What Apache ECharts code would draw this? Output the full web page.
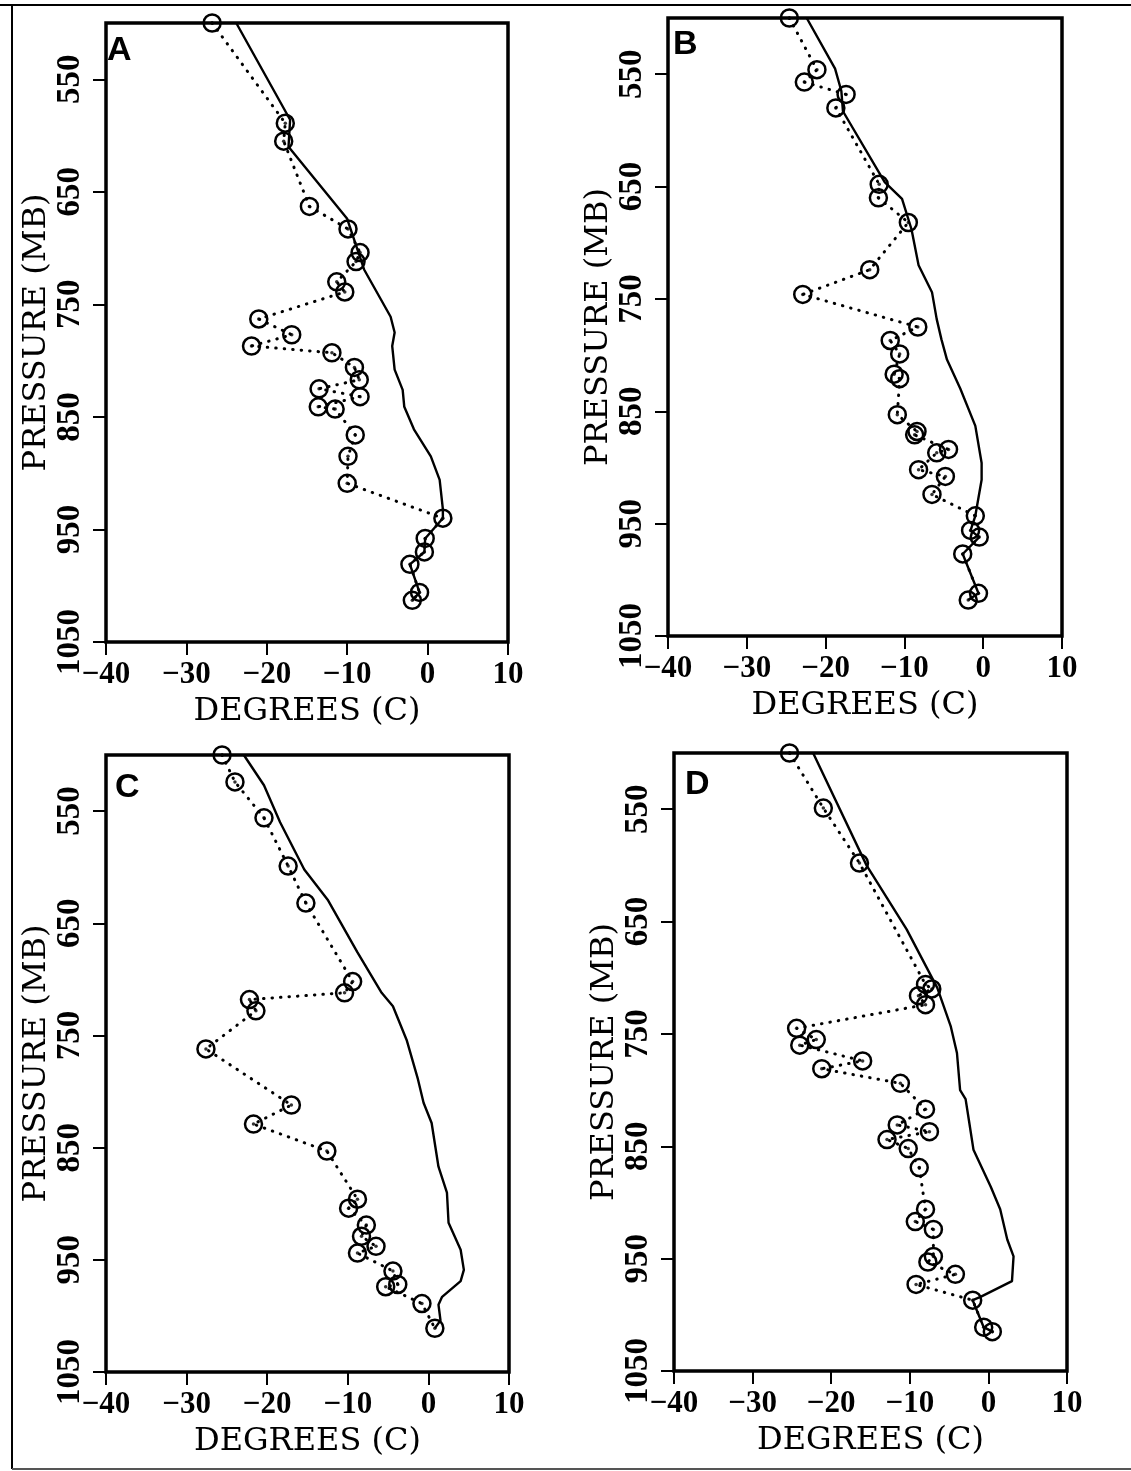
<!DOCTYPE html>
<html><head><meta charset="utf-8">
<script src="https://cdn.jsdelivr.net/npm/echarts@6/dist/echarts.min.js"></script>
<style>html,body{margin:0;padding:0;background:#fff}#c{width:1131px;height:1471px}</style>
</head><body><div id="c"></div>
<script>
// ---- data ----
const panelLabels = ['A', 'B', 'C', 'D'];
const xTicks = [-40, -30, -20, -10, 0, 10];
const yTicks = [550, 650, 750, 850, 950, 1050];

// Panel A
const aObsT = [-26.8, -17.7, -17.9, -14.7, -9.9, -8.4, -8.9, -11.3, -10.3, -21.0, -16.9, -21.9, -11.9, -9.1, -8.5, -13.5, -8.4, -13.6, -11.5, -9.0, -9.9, -10.0, 1.9, -0.3, -0.4, -2.2, -1.0, -1.9];
const aObsP = [500, 589, 605, 663, 683, 704, 712, 730, 739, 763, 777, 787, 793, 806, 817, 825, 832, 841, 843, 866, 885, 909, 940, 958, 970, 981, 1006, 1013];
const aEnvT = [-23.8, -17.1, -17.3, -10.0, -7.9, -4.6, -4.1, -4.4, -4.1, -3.1, -2.9, -1.7, 0.4, 1.5, 1.9, 1.9, -0.3, -0.4, -2.2, -1.0, -1.9];
const aEnvP = [500, 586, 610, 674, 719, 761, 775, 787, 808, 826, 841, 861, 885, 906, 932, 940, 958, 970, 981, 1006, 1013];

// Panel B
const bObsT = [-24.6, -21.1, -22.7, -17.4, -18.7, -13.2, -13.3, -9.5, -14.4, -22.9, -8.3, -11.8, -10.6, -11.3, -10.6, -10.9, -8.4, -8.7, -4.4, -5.9, -8.2, -4.8, -6.5, -1.0, -1.6, -0.5, -2.6, -0.6, -1.9];
const bObsP = [500, 546, 557, 568, 580, 648, 660, 682, 724, 746, 775, 787, 799, 817, 821, 853, 868, 871, 884, 887, 902, 908, 924, 943, 956, 962, 977, 1012, 1018];
const bEnvT = [-22.4, -18.8, -18.0, -17.8, -12.5, -10.3, -9.1, -8.2, -6.5, -5.9, -5.3, -4.6, -2.9, -1.0, -0.2, -0.2, -0.8, -1.0, -1.6, -0.5, -2.6, -0.6, -1.9];
const bEnvP = [500, 545, 565, 583, 646, 661, 688, 720, 744, 768, 786, 804, 830, 863, 896, 911, 935, 943, 956, 962, 977, 1012, 1018];

// Panel C
const cObsT = [-25.6, -24.0, -20.4, -17.4, -15.2, -9.4, -10.4, -22.2, -21.4, -27.6, -17.0, -21.7, -12.6, -8.8, -9.9, -7.7, -8.3, -6.5, -8.8, -4.4, -3.8, -5.3, -0.8, 0.8];
const cObsP = [500, 524, 556, 599, 632, 702, 712, 718, 728, 762, 812, 829, 853, 896, 904, 919, 929, 938, 944, 960, 972, 974, 989, 1011];
const cEnvT = [-22.9, -20.4, -18.4, -15.4, -12.5, -8.8, -5.8, -4.4, -2.7, -1.3, -0.6, 0.4, 1.25, 2.3, 2.5, 4.0, 4.4, 4.0, 1.7, 1.25, 1.5, 0.8];
const cEnvP = [500, 527, 560, 602, 629, 676, 712, 724, 754, 789, 810, 828, 867, 890, 917, 941, 959, 969, 983, 990, 1004, 1011];

// Panel D
const dObsT = [-25.3, -21.0, -16.4, -8.0, -7.2, -8.9, -8.0, -24.4, -21.9, -24.0, -16.0, -21.2, -11.2, -8.0, -11.6, -7.5, -12.9, -10.2, -8.8, -8.0, -9.3, -7.0, -7.0, -7.7, -4.2, -9.2, -2.0, -0.6, 0.5];
const dObsP = [500, 549, 598, 706, 710, 716, 724, 745, 755, 760, 774, 781, 794, 817, 831, 837, 844, 852, 869, 906, 917, 924, 948, 953, 964, 973, 987, 1011, 1015];
const dEnvT = [-22.3, -15.5, -10.4, -6.5, -4.8, -4.0, -3.6, -2.9, -2.5, -1.9, 0.3, 1.5, 2.4, 3.2, 3.0, -1.0, -2.0, -0.6, 0.5];
const dEnvP = [500, 600, 657, 709, 743, 767, 800, 808, 826, 853, 886, 906, 933, 948, 970, 984, 987, 1011, 1015];

const obsT = [aObsT, bObsT, cObsT, dObsT];
const obsP = [aObsP, bObsP, cObsP, dObsP];
const envT = [aEnvT, bEnvT, cEnvT, dEnvT];
const envP = [aEnvP, bEnvP, cEnvP, dEnvP];

// ---- layout ----
const grids = [
  {left: 106, top: 23, width: 402, height: 619},
  {left: 668, top: 18, width: 394, height: 618},
  {left: 106, top: 755, width: 403, height: 617},
  {left: 674, top: 753, width: 393, height: 618}
];
const letterPos = [[102, 29], [668, 23], [110, 766], [680, 763]];

const zip = (a, b) => a.map((v, i) => [v, b[i]]);
const minus = v => String(v).replace('-', '\u2212');
const nameFont = {fontFamily: 'DejaVu Serif', fontSize: 32, color: '#000'};
const tickFont = {fontFamily: 'Liberation Serif', fontWeight: 'bold', fontSize: 31, color: '#000'};
const yTickFont = {fontFamily: 'Liberation Serif', fontWeight: 'bold', fontSize: 33, color: '#000'};

const option = {
  animation: false,
  backgroundColor: '#fff',
  title: panelLabels.map((t, i) => ({
    text: t, left: letterPos[i][0], top: letterPos[i][1],
    textStyle: {fontFamily: 'Liberation Sans', fontWeight: 'bold', fontSize: 34, color: '#000'}
  })),
  grid: grids.map(g => Object.assign({show: true, borderColor: '#000', borderWidth: 3.5, backgroundColor: 'transparent'}, g)),
  xAxis: grids.map((g, i) => ({
    type: 'value', gridIndex: i, min: xTicks[0], max: xTicks[xTicks.length - 1], interval: 10,
    axisLine: {show: false, onZero: false}, splitLine: {show: false},
    axisTick: {show: true, length: 13, lineStyle: {color: '#000', width: 2}},
    axisLabel: Object.assign({margin: 17, formatter: minus}, tickFont),
    name: 'DEGREES (C)', nameLocation: 'middle', nameGap: 54, nameTextStyle: nameFont
  })),
  yAxis: grids.map((g, i) => ({
    type: 'value', gridIndex: i, min: 500, max: 1050, inverse: true,
    axisLine: {show: false, onZero: false}, splitLine: {show: false},
    axisTick: {show: true, length: 13, customValues: yTicks, lineStyle: {color: '#000', width: 2}},
    axisLabel: Object.assign({margin: 19, rotate: 90, customValues: yTicks, formatter: v => String(v)}, yTickFont),
    name: 'PRESSURE (MB)', nameLocation: 'middle', nameGap: 48, nameTextStyle: nameFont
  })),
  series: [].concat(...grids.map((g, i) => [
    {
      type: 'line', xAxisIndex: i, yAxisIndex: i, data: zip(envT[i], envP[i]),
      showSymbol: false, symbol: 'none', lineStyle: {color: '#000', width: 2.4}, z: 3
    },
    {
      type: 'line', xAxisIndex: i, yAxisIndex: i, data: zip(obsT[i], obsP[i]),
      symbol: 'circle', symbolSize: 17, clip: false,
      itemStyle: {color: 'rgba(0,0,0,0)', borderColor: '#000', borderWidth: 2.5},
      lineStyle: {color: '#000', width: 3, type: [0.5, 8], cap: 'round'}, z: 4
    },
    {
      type: 'scatter', xAxisIndex: i, yAxisIndex: i, data: zip(obsT[i], obsP[i]),
      symbol: 'circle', symbolSize: 3.5, itemStyle: {color: '#000'}, z: 5
    }
  ])),
  graphic: [
    {type: 'line', shape: {x1: 0, y1: 5, x2: 1131, y2: 5}, style: {stroke: '#000', lineWidth: 2}},
    {type: 'line', shape: {x1: 12, y1: 5, x2: 12, y2: 1469}, style: {stroke: '#000', lineWidth: 2}},
    {type: 'line', shape: {x1: 12, y1: 1469, x2: 1131, y2: 1469}, style: {stroke: '#555', lineWidth: 2}}
  ]
};

const chart = echarts.init(document.getElementById('c'), null, {renderer: 'canvas'});
chart.setOption(option);
</script>
</body></html>
